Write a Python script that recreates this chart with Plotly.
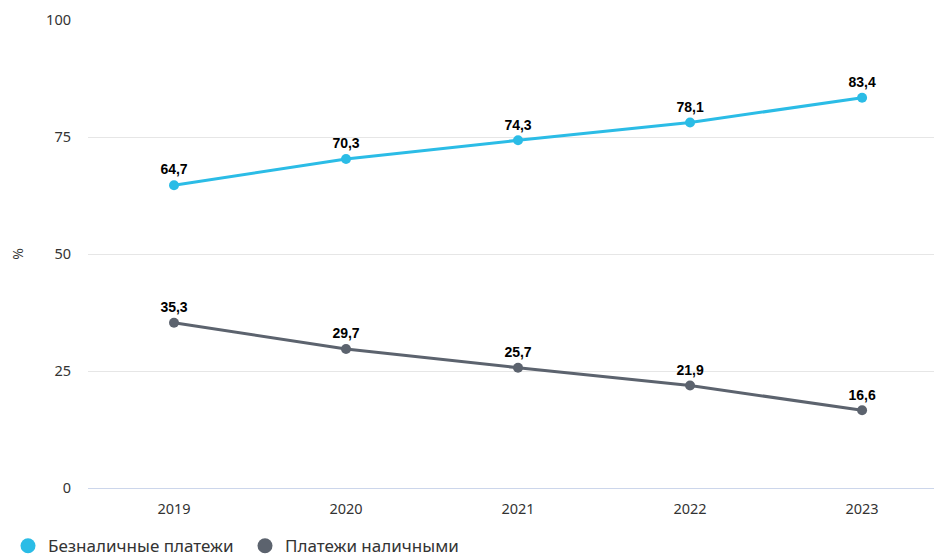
import plotly.graph_objects as go

years = ["2019", "2020", "2021", "2022", "2023"]
cashless = [64.7, 70.3, 74.3, 78.1, 83.4]
cash = [35.3, 29.7, 25.7, 21.9, 16.6]
series_names = ["Безналичные платежи", "Платежи наличными"]
colors = ["#2bbce6", "#5c636e"]

def fmt(v):
    return f"{v:.1f}".replace(".", ",")

fig = go.Figure()
for name, vals, col in zip(series_names, [cashless, cash], colors):
    fig.add_trace(go.Scatter(
        x=years, y=vals, name=name, mode="lines+markers+text",
        line=dict(color=col, width=3),
        marker=dict(color=col, size=10),
        text=[fmt(v) for v in vals], textposition="top center",
        textfont=dict(family="Liberation Sans, Arial", size=14, color="#000000", weight="bold"),
        cliponaxis=False, showlegend=False,
    ))
# legend entries (marker-only symbols)
for name, col in zip(series_names, colors):
    fig.add_trace(go.Scatter(
        x=[None], y=[None], name=name, mode="markers",
        marker=dict(color=col, size=15), showlegend=True,
    ))

fig.update_layout(
    width=942, height=556,
    margin=dict(l=80, r=10, t=12, b=76),
    paper_bgcolor="white", plot_bgcolor="white",
    font=dict(family="Noto Sans, sans-serif", color="#333333", size=14),
    showlegend=True,
    legend=dict(orientation="h", xref="container", x=0.0, xanchor="left", yref="container",
                y=0.032, yanchor="middle",
                font=dict(family="Noto Sans", size=17, color="#333333"),
                traceorder="normal", itemwidth=30, entrywidth=192, entrywidthmode="pixels"),
    xaxis=dict(type="category", range=[-0.5, 4.453], showgrid=False, automargin=False,
               showline=False, ticks="", ticklabelstandoff=10,
               tickfont=dict(size=14.5, color="#333333")),
    yaxis=dict(range=[0, 100], tickvals=[0, 25, 50, 75, 100], showgrid=True, automargin=False,
               gridcolor="#e6e6e6", gridwidth=1, zeroline=True, zerolinecolor="#ccd6eb",
               zerolinewidth=1, ticks="", ticklabelstandoff=16,
               tickfont=dict(size=14.5, color="#333333"),
               title=dict(text="%", font=dict(size=14, color="#333333"), standoff=47)),
)

fig.write_html("out.html")
